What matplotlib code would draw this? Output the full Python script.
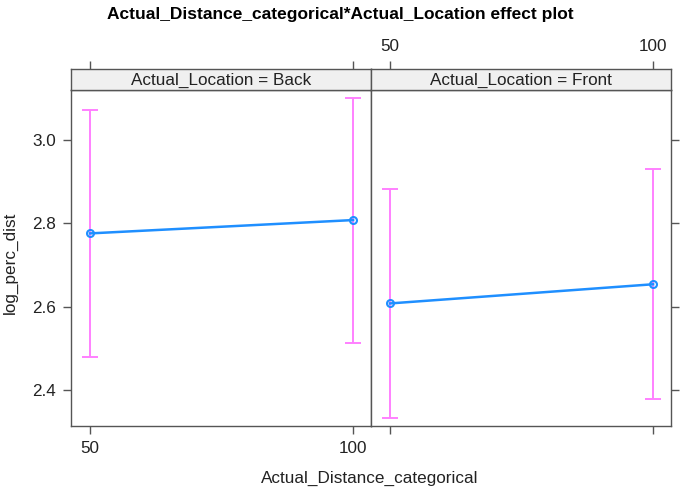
import matplotlib
matplotlib.use("Agg")
import matplotlib.pyplot as plt

# effect estimates
distances = ["50", "100"]
locations = ["Back", "Front"]
fit = {"Back": [2.776, 2.808], "Front": [2.608, 2.654]}
lower = {"Back": [2.480, 2.513], "Front": [2.333, 2.378]}
upper = {"Back": [3.072, 3.100], "Front": [2.882, 2.930]}

plt.rcParams['font.family'] = ['Liberation Sans', 'DejaVu Sans']
edge = '#555555'
txt = '#222222'
fs = 12.3

fig = plt.figure(figsize=(6.8, 4.9), dpi=100)
pw = 300 / 680
left0 = 71 / 680
bottom = 1 - 426 / 490
height = (426 - 90) / 490
strip_h = 21 / 490

xs = [0, 1]
for i, loc in enumerate(locations):
    ax = fig.add_axes([left0 + i * pw, bottom, pw, height])
    lo = [f - l for f, l in zip(fit[loc], lower[loc])]
    hi = [u - f for f, u in zip(fit[loc], upper[loc])]
    ax.errorbar(xs, fit[loc], yerr=[lo, hi], fmt='none', ecolor='#ff80ff',
                elinewidth=1.4, capsize=5.5, capthick=1.4, zorder=2)
    ax.plot(xs, fit[loc], color='#1f8fff', lw=1.8, marker='o', ms=5,
            mfc='none', mec='#1f8fff', mew=1.5, zorder=3)
    ax.set_xlim(-0.072, 1.068)
    ax.set_ylim(2.314, 3.12)
    for s in ax.spines.values():
        s.set_color(edge)
        s.set_linewidth(1.0)
    ax.set_xticks(xs)
    ax.set_xticklabels(distances)
    ax.set_yticks([2.4, 2.6, 2.8, 3.0])
    ax.tick_params(labelcolor=txt, color=edge, labelsize=fs, length=6, width=1.0, pad=5)
    ax.tick_params(axis='x', top=False, bottom=True, labelbottom=(i == 0))
    if i == 0:
        ax.tick_params(axis='y', left=True, right=False, labelleft=True)
    else:
        ax.tick_params(axis='y', left=False, right=True, labelleft=False, labelright=False)

    # strip
    sax = fig.add_axes([left0 + i * pw, bottom + height, pw, strip_h])
    sax.set_xlim(0, 1)
    sax.set_ylim(0, 1)
    sax.set_facecolor('#f0f0f0')
    sax.set_xticks([])
    sax.set_yticks([])
    for s in sax.spines.values():
        s.set_color(edge)
        s.set_linewidth(1.0)
    sax.text(0.5, 0.47, f'Actual_Location = {loc}', ha='center', va='center',
             fontsize=fs, color=txt)

    # ticks above the strip
    top = ax.secondary_xaxis(1 + strip_h / height)
    top.spines['top'].set_visible(False)
    top.set_xticks(xs)
    top.set_xticklabels(distances if i == 1 else ['', ''])
    top.tick_params(axis='x', color=edge, length=6, width=1.0, labelsize=fs,
                    labelcolor=txt, pad=5)

fig.text(10 / 680, 1 - 263 / 490, 'log_perc_dist', rotation=90, ha='center',
         va='center', fontsize=fs, color=txt)
fig.text(370 / 680, 1 - 478 / 490, 'Actual_Distance_categorical', ha='center',
         va='center', fontsize=fs, color=txt)
fig.text(0.5, 1 - 14 / 490, 'Actual_Distance_categorical*Actual_Location effect plot',
         ha='center', va='center', fontsize=12.5, fontweight='bold')
fig.savefig('out.png', dpi=100)
